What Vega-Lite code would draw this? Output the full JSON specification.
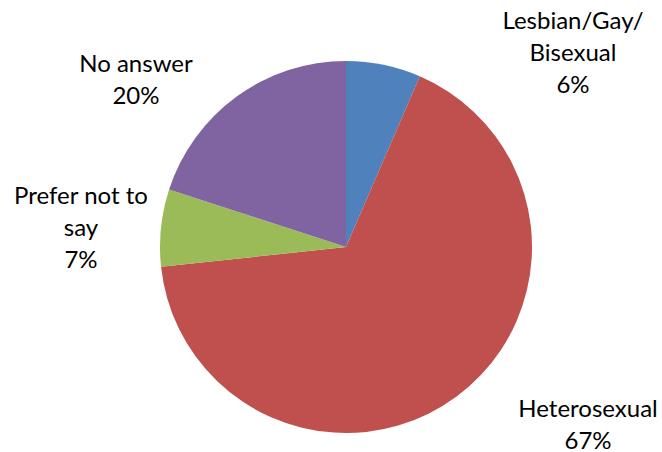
{
  "$schema": "https://vega.github.io/schema/vega-lite/v6.json",
  "width": 662,
  "height": 452,
  "autosize": {"type": "fit", "contains": "padding"},
  "padding": {"left": 28, "top": 42, "right": 0, "bottom": 0},
  "background": "white",
  "view": {"stroke": null},
  "data": {
    "values": [
      {"category": "Lesbian/Gay/Bisexual", "order": 1, "value": 6.5, "label": "Lesbian/Gay/\nBisexual\n6%"},
      {"category": "Heterosexual", "order": 2, "value": 66.8, "label": "Heterosexual\n67%"},
      {"category": "Prefer not to say", "order": 3, "value": 6.7, "label": "Prefer not to\nsay\n7%"},
      {"category": "No answer", "order": 4, "value": 20.0, "label": "No answer\n20%"}
    ]
  },
  "encoding": {
    "theta": {"field": "value", "type": "quantitative", "stack": true},
    "order": {"field": "order", "type": "quantitative"}
  },
  "layer": [
    {
      "mark": {"type": "arc", "outerRadius": 186},
      "encoding": {
        "color": {
          "field": "category",
          "type": "nominal",
          "scale": {
            "domain": ["Lesbian/Gay/Bisexual", "Heterosexual", "Prefer not to say", "No answer"],
            "range": ["#4F81BD", "#C0504D", "#9BBB59", "#8064A2"]
          },
          "legend": null
        }
      }
    },
    {
      "mark": {"type": "text", "radius": 319.6, "thetaOffset": 0.5856, "font": "Lato", "fontSize": 24, "lineHeight": 32, "lineBreak": "\n", "align": "center", "baseline": "middle", "color": "#000000"},
      "encoding": {"text": {"condition": {"test": "datum.category === 'Lesbian/Gay/Bisexual'", "field": "label"}, "value": ""}}
    },
    {
      "mark": {"type": "text", "radius": 291.8, "thetaOffset": -0.3435, "font": "Lato", "fontSize": 24, "lineHeight": 32, "lineBreak": "\n", "align": "center", "baseline": "middle", "color": "#000000"},
      "encoding": {"text": {"condition": {"test": "datum.category === 'Heterosexual'", "field": "label"}, "value": ""}}
    },
    {
      "mark": {"type": "text", "radius": 269.7, "thetaOffset": 0.0827, "font": "Lato", "fontSize": 24, "lineHeight": 32, "lineBreak": "\n", "align": "center", "baseline": "middle", "color": "#000000"},
      "encoding": {"text": {"condition": {"test": "datum.category === 'Prefer not to say'", "field": "label"}, "value": ""}}
    },
    {
      "mark": {"type": "text", "radius": 277.9, "thetaOffset": -0.2285, "font": "Lato", "fontSize": 24, "lineHeight": 32, "lineBreak": "\n", "align": "center", "baseline": "middle", "color": "#000000"},
      "encoding": {"text": {"condition": {"test": "datum.category === 'No answer'", "field": "label"}, "value": ""}}
    }
  ]
}
